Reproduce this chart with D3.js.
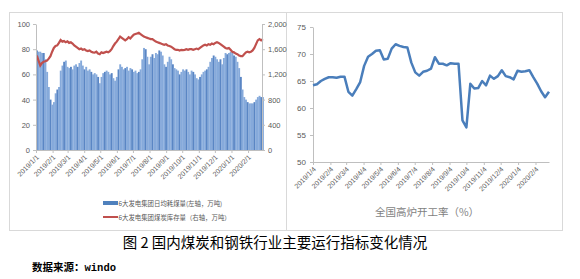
<!DOCTYPE html>
<html>
<head>
<meta charset="utf-8">
<script src="https://cdn.jsdelivr.net/npm/d3@7"></script>
<style>
  body { margin: 0; background: #fff; }
  svg { display: block; font-family: "Liberation Sans", "DejaVu Sans", sans-serif; }
  .axis path, .axis line { stroke: #bfbfbf; }
  .axis text { fill: #595959; }
  .cjk { font-family: "Noto Sans CJK SC", sans-serif; }
</style>
</head>
<body>
<script>
//
// DATA
//

// left chart: one reading roughly every 3 days from 2019/1/1
var coalStart = new Date(2019, 0, 1);
var coalEnd = new Date(2020, 1, 27);
// 6大发电集团日均耗煤量 (万吨)
var coalUse = [79,78,78,77,77,72,62,50,40,36,38,45,48,50,63,67,70,71,66,65,
  66,64,67,68,66,69,71,67,64,66,63,64,62,60,61,60,58,53,58,61,
  62,63,62,60,61,57,55,58,64,68,66,64,65,66,63,65,64,62,63,61,
  62,64,72,81,80,74,68,74,76,73,77,76,79,78,75,68,66,70,74,72,
  68,65,64,63,60,62,64,63,64,62,60,63,62,60,57,56,58,60,62,63,
  64,66,70,73,75,74,72,70,72,68,73,77,76,77,78,77,75,74,70,65,
  58,48,42,40,38,37,37,37,38,40,42,43,42,42];
// 6大发电集团煤炭库存量 (万吨)
var coalStock = [1500,1420,1340,1380,1400,1410,1420,1450,1490,1560,1620,1650,1660,1700,1745,1720,1730,1710,1725,1700,
  1710,1690,1660,1640,1620,1600,1610,1590,1600,1580,1570,1580,1560,1550,1545,1560,1530,1520,1550,1540,
  1550,1560,1550,1570,1600,1650,1690,1720,1760,1800,1780,1760,1740,1760,1790,1770,1800,1830,1840,1850,
  1860,1840,1820,1800,1790,1780,1770,1760,1760,1740,1720,1710,1700,1690,1680,1670,1680,1660,1650,1640,
  1620,1600,1590,1590,1580,1590,1585,1590,1600,1590,1600,1600,1590,1600,1610,1600,1620,1640,1660,1670,
  1660,1680,1670,1690,1680,1700,1710,1700,1680,1660,1640,1620,1610,1620,1590,1560,1550,1530,1520,1500,
  1490,1490,1520,1550,1560,1550,1560,1580,1620,1680,1740,1760,1740,1760,1770,1760,1790];

var leftTicks = [0, 20, 40, 60, 80, 100];
var rightTicks = [0, 400, 800, 1200, 1600, 2000];
var legendLabels = ["6大发电集团日均耗煤量(左轴，万吨)", "6大发电集团煤炭库存量（右轴，万吨）"];

// right chart: weekly from 2019/1/4
var furnaceStart = new Date(2019, 0, 4);
var furnaceRate = [64.2,64.4,65.0,65.4,65.7,65.7,65.6,65.8,65.8,63.0,
  62.3,63.5,64.8,67.8,69.5,70.0,70.6,70.7,69.0,69.1,
  71.0,71.8,71.5,71.3,71.2,68.4,66.6,66.0,66.7,66.9,
  67.3,69.4,68.2,68.2,67.9,68.3,68.2,68.2,57.7,56.4,
  64.5,63.6,63.7,65.0,64.2,66.0,65.4,65.9,67.0,65.9,
  65.7,65.3,66.9,66.7,66.8,67.0,65.7,64.5,63.1,62.0,63.0];
var furnaceTicks = [50, 55, 60, 65, 70, 75];
var furnaceTitle = "全国高炉开工率（%）";

var caption = "图 2 国内煤炭和钢铁行业主要运行指标变化情况";
var source = "数据来源：";
var sourceTail = "windo";

//
// SETUP
//
var W = 580, H = 279;
var svg = d3.select("body").append("svg").attr("width", W).attr("height", H);

// panel frames
svg.append("rect").attr("x", 9.5).attr("y", 12.5).attr("width", 277).attr("height", 218)
   .attr("fill", "none").attr("stroke", "#d9d9d9");
svg.append("rect").attr("x", 286.5).attr("y", 12.5).attr("width", 276).attr("height", 218)
   .attr("fill", "none").attr("stroke", "#d9d9d9");

var fmtDate = d3.timeFormat("%Y/%-m/%-d");

//
// LEFT CHART
//
var step = (coalEnd - coalStart) / (coalUse.length - 1);
var coalDates = coalUse.map(function(d, i){ return new Date(+coalStart + i * step); });

var x1 = d3.scaleTime().domain([coalStart, coalEnd]).range([36, 262]);
var yL = d3.scaleLinear().domain([0, 100]).range([150, 24]);
var yR = d3.scaleLinear().domain([0, 2000]).range([150, 24]);

var bw = x1(coalDates[1]) - x1(coalDates[0]);
svg.append("g").selectAll("rect")
   .data(coalUse)
   .enter().append("rect")
   .attr("x", function(d, i){ return x1(coalDates[i]); })
   .attr("y", function(d){ return yL(d); })
   .attr("width", bw + 0.2)
   .attr("height", function(d){ return yL(0) - yL(d); })
   .attr("fill", function(d, i){ return i % 4 == 0 ? "#5a86c4" : "#86aadb"; });

svg.append("path")
   .datum(coalStock)
   .attr("fill", "none")
   .attr("stroke", "#c0504d")
   .attr("stroke-width", 2.2)
   .attr("d", d3.line().x(function(d, i){ return x1(coalDates[i]) + bw / 2; }).y(function(d){ return yR(d); }));

svg.append("g").attr("class", "axis").attr("transform", "translate(36,0)")
   .call(d3.axisLeft(yL).tickValues(leftTicks).tickSize(3).tickPadding(3).tickSizeOuter(0))
   .selectAll("text").style("font-size", "7.5px");

svg.append("g").attr("class", "axis").attr("transform", "translate(262,0)")
   .call(d3.axisRight(yR).tickValues(rightTicks).tickFormat(d3.format(",")).tickSize(3).tickPadding(3).tickSizeOuter(0))
   .selectAll("text").style("font-size", "7.5px");

var xa1 = svg.append("g").attr("class", "axis").attr("transform", "translate(0,150)")
   .call(d3.axisBottom(x1).ticks(d3.timeMonth.every(1)).tickFormat(fmtDate).tickSize(3).tickSizeOuter(0));
xa1.selectAll("text")
   .style("font-size", "7px")
   .attr("text-anchor", "end")
   .attr("dy", "0.3em")
   .attr("y", 4).attr("x", -2)
   .attr("transform", "translate(0,2) rotate(-45)");

// legend
svg.append("rect").attr("x", 103).attr("y", 201).attr("width", 15).attr("height", 4).attr("fill", "#4f81bd");
svg.append("line").attr("x1", 103).attr("x2", 118).attr("y1", 217).attr("y2", 217)
   .attr("stroke", "#c0504d").attr("stroke-width", 2);
svg.selectAll(".legtext").data(legendLabels).enter().append("text")
   .attr("class", "cjk legtext")
   .attr("x", 118.5).attr("y", function(d, i){ return 205.5 + i * 14; })
   .attr("fill", "#595959").style("font-size", "6.4px")
   .text(function(d){ return d; });

//
// RIGHT CHART
//
var furnaceDates = furnaceRate.map(function(d, i){ return d3.timeDay.offset(furnaceStart, i * 7); });
var x2 = d3.scaleTime().domain([furnaceStart, furnaceDates[furnaceDates.length - 1]]).range([313, 549]);
var y2 = d3.scaleLinear().domain([50, 75]).range([162, 27]);

svg.append("g").attr("class", "axis").attr("transform", "translate(313,0)")
   .call(d3.axisLeft(y2).tickValues(furnaceTicks).tickSize(3).tickPadding(4).tickSizeOuter(0))
   .selectAll("text").style("font-size", "8px");

var xa2 = svg.append("g").attr("class", "axis").attr("transform", "translate(0,162)")
   .call(d3.axisBottom(x2).tickValues(d3.timeMonth.range(new Date(2019, 0, 1), new Date(2020, 2, 1))
          .map(function(m){ return new Date(m.getFullYear(), m.getMonth(), 4); }))
          .tickFormat(fmtDate).tickSize(3).tickSizeOuter(0));
xa2.selectAll("text")
   .style("font-size", "7px")
   .attr("text-anchor", "end")
   .attr("dy", "0.3em")
   .attr("y", 4).attr("x", -2)
   .attr("transform", "translate(0,2) rotate(-45)");

svg.append("path")
   .datum(furnaceRate)
   .attr("fill", "none")
   .attr("stroke", "#4a7ebb")
   .attr("stroke-width", 2.5)
   .attr("stroke-linejoin", "round")
   .attr("d", d3.line().x(function(d, i){ return x2(furnaceDates[i]); }).y(function(d){ return y2(d); }));

svg.append("text").attr("class", "cjk")
   .attr("x", 427).attr("y", 216)
   .attr("text-anchor", "middle")
   .attr("fill", "#7f7f7f")
   .style("font-size", "10.5px")
   .text(furnaceTitle);

//
// CAPTION
//
svg.append("text").attr("class", "cjk")
   .attr("x", 275).attr("y", 248)
   .attr("text-anchor", "middle")
   .attr("fill", "#000")
   .style("font-size", "14.5px")
   .style("white-space", "pre")
   .text(caption);

var src = svg.append("text").attr("x", 32).attr("y", 271)
   .attr("fill", "#000").style("font-size", "10.5px").style("font-weight", "bold");
src.append("tspan").attr("class", "cjk").text(source);
src.append("tspan").style("font-family", "Liberation Mono, monospace").text(sourceTail);
</script>
</body>
</html>
